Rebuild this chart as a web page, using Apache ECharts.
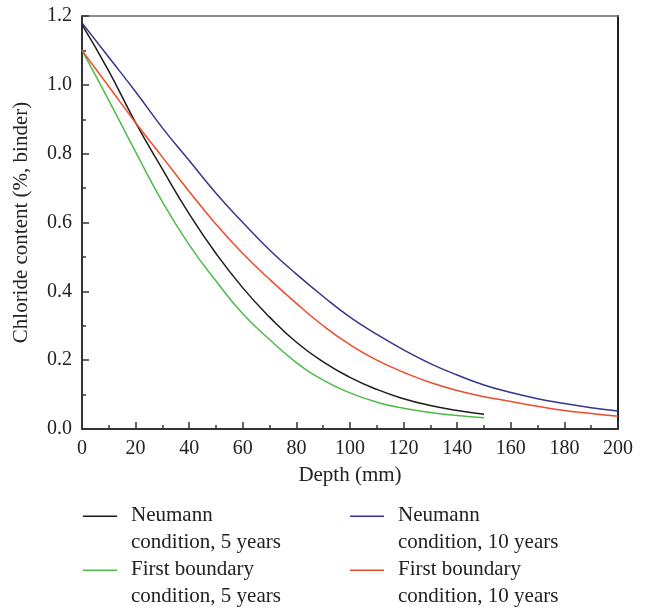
<!DOCTYPE html>
<html>
<head>
<meta charset="utf-8">
<script src="https://cdn.jsdelivr.net/npm/echarts@6/dist/echarts.min.js"></script>
<style>
  html, body { margin: 0; padding: 0; background: #fff; }
  #chart { width: 646px; height: 608px; }
</style>
</head>
<body>
<div id="chart"></div>
<script>
  // depth (mm) for the 5-year and 10-year profiles
  const depth5 = [0, 10, 20, 30, 40, 50, 60, 70, 80, 90, 100, 110, 120, 130, 140, 150]
  const depth10 = [0, 10, 20, 30, 40, 50, 60, 70, 80, 90, 100, 110, 120, 130, 140, 150, 160, 170, 180, 190, 200]

  // chloride content (%, binder)
  const neumann5 = [1.175, 1.04, 0.89, 0.755, 0.625, 0.51, 0.41, 0.325, 0.252, 0.195, 0.15, 0.115, 0.088, 0.068, 0.054, 0.043]
  const first5 = [1.10, 0.955, 0.805, 0.66, 0.535, 0.43, 0.335, 0.26, 0.193, 0.142, 0.105, 0.078, 0.06, 0.048, 0.039, 0.033]
  const neumann10 = [1.18, 1.08, 0.98, 0.875, 0.78, 0.685, 0.60, 0.52, 0.45, 0.385, 0.325, 0.275, 0.23, 0.19, 0.157, 0.128, 0.106, 0.088, 0.074, 0.062, 0.052]
  const first10 = [1.10, 0.995, 0.89, 0.79, 0.69, 0.595, 0.51, 0.435, 0.365, 0.30, 0.245, 0.20, 0.165, 0.135, 0.112, 0.094, 0.08, 0.066, 0.054, 0.045, 0.037]

  const seriesNames = [
    'Neumann condition, 5 years',
    'Neumann condition, 10 years',
    'First boundary condition, 5 years',
    'First boundary condition, 10 years'
  ]
  const legendLabels = {
    'Neumann condition, 5 years': 'Neumann\ncondition, 5 years',
    'Neumann condition, 10 years': 'Neumann\ncondition, 10 years',
    'First boundary condition, 5 years': 'First boundary\ncondition, 5 years',
    'First boundary condition, 10 years': 'First boundary\ncondition, 10 years'
  }

  const font = 'Liberation Serif'
  const axisColor = '#333'
  // legend swatch sits on the first text line: a thin bar plus an empty segment below
  const swatch = 'path://M0,0 H34 V1.5 H0 Z M0,27 L34,27'

  function pairs(xs, ys) {
    return xs.map((x, i) => [x, ys[i]])
  }

  function line(name, color, xs, ys) {
    return {
      name: name,
      type: 'line',
      data: pairs(xs, ys),
      smooth: 0.5,
      showSymbol: false,
      symbol: 'none',
      lineStyle: { color: color, width: 1.5 },
      itemStyle: { color: color },
      animation: false
    }
  }

  // one legend per entry so that the two-column layout matches
  function legendAt(name, left, top) {
    return {
      data: [name],
      left: left,
      top: top,
      padding: 0,
      icon: swatch,
      itemWidth: 34,
      itemHeight: 28.5,
      selectedMode: false,
      itemStyle: { borderWidth: 0 },
      formatter: n => legendLabels[n],
      textStyle: {
        fontFamily: font,
        fontSize: 21,
        lineHeight: 27,
        color: '#222',
        padding: [0, 0, 0, 9]
      }
    }
  }

  const chart = echarts.init(document.getElementById('chart'))
  chart.setOption({
    backgroundColor: '#fff',
    animation: false,
    grid: { left: 82, right: 28, top: 16, bottom: 179 },
    legend: [
      legendAt(seriesNames[0], 83, 502),
      legendAt(seriesNames[1], 350, 502),
      legendAt(seriesNames[2], 83, 556),
      legendAt(seriesNames[3], 350, 556)
    ],
    xAxis: [
      {
        type: 'value',
        min: 0,
        max: 200,
        interval: 20,
        name: 'Depth (mm)',
        nameLocation: 'middle',
        nameGap: 36,
        nameTextStyle: { fontFamily: font, fontSize: 21, color: '#222' },
        axisLine: { lineStyle: { color: axisColor, width: 2 } },
        axisTick: { inside: true, length: 7, lineStyle: { color: axisColor, width: 1.5 } },
        minorTick: { show: true, splitNumber: 2, length: 4, lineStyle: { color: axisColor, width: 1.5 } },
        axisLabel: { fontFamily: font, fontSize: 20, color: '#222', margin: 10 },
        splitLine: { show: false }
      },
      {
        type: 'value',
        position: 'top',
        min: 0,
        max: 200,
        axisLine: { show: true, onZero: false, lineStyle: { color: '#666', width: 1.5 } },
        axisTick: { show: false },
        axisLabel: { show: false },
        splitLine: { show: false }
      }
    ],
    yAxis: [
      {
        type: 'value',
        min: 0,
        max: 1.2,
        interval: 0.2,
        name: 'Chloride content (%, binder)',
        nameLocation: 'middle',
        nameGap: 50,
        nameTextStyle: { fontFamily: font, fontSize: 21, color: '#222' },
        axisLine: { show: true, lineStyle: { color: axisColor, width: 2 } },
        axisTick: { inside: true, length: 7, lineStyle: { color: axisColor, width: 1.5 } },
        minorTick: { show: true, splitNumber: 2, length: 4, lineStyle: { color: axisColor, width: 1.5 } },
        axisLabel: {
          fontFamily: font,
          fontSize: 20,
          color: '#222',
          margin: 10,
          formatter: v => v.toFixed(1)
        },
        splitLine: { show: false }
      },
      {
        type: 'value',
        position: 'right',
        min: 0,
        max: 1.2,
        axisLine: { show: true, onZero: false, lineStyle: { color: '#222', width: 2 } },
        axisTick: { show: false },
        axisLabel: { show: false },
        splitLine: { show: false }
      }
    ],
    series: [
      line(seriesNames[0], '#1b1b1b', depth5, neumann5),
      line(seriesNames[1], '#35358f', depth10, neumann10),
      line(seriesNames[2], '#4cbb4c', depth5, first5),
      line(seriesNames[3], '#f04b28', depth10, first10)
    ]
  })

  window.addEventListener('resize', () => {
    chart.resize()
  })
</script>
</body>
</html>
